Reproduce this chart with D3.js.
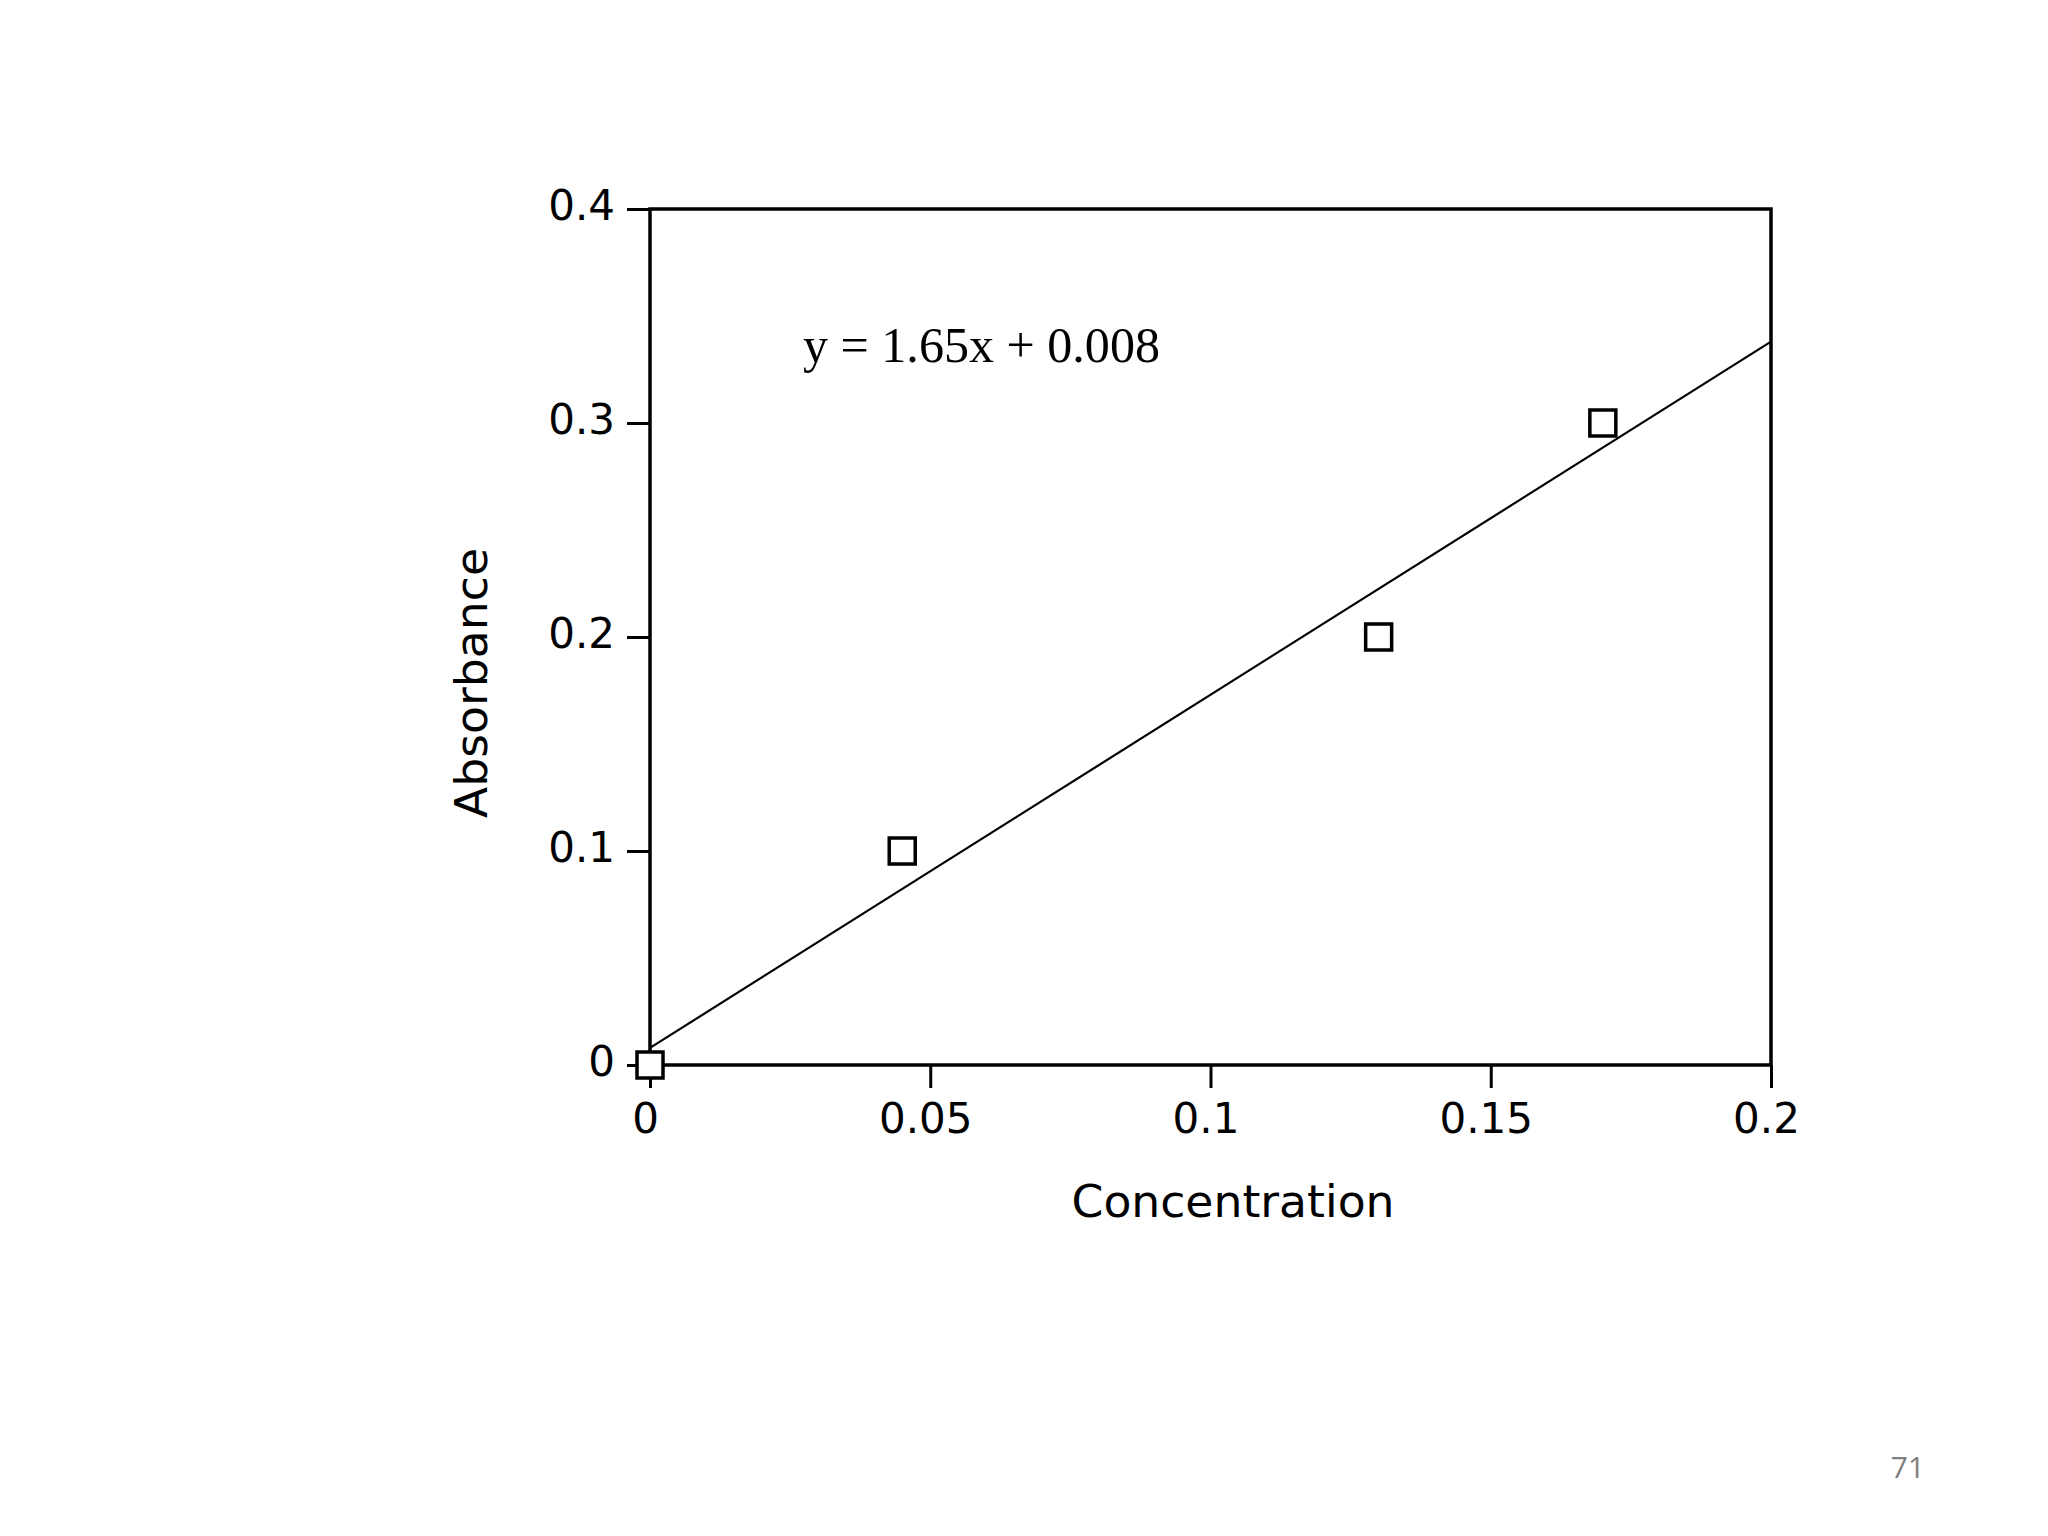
<!DOCTYPE html>
<html><head><meta charset="utf-8">
<script src="https://cdn.jsdelivr.net/npm/d3@7"></script>
<style>html,body{margin:0;padding:0;background:#fff;}</style>
</head><body>
<svg id="c" width="2048" height="1536"></svg>
<script>
const concentration = [0, 0.045, 0.13, 0.17];
const absorbance = [0, 0.1, 0.2, 0.3];
const xTicks = [0, 0.05, 0.1, 0.15, 0.2];
const xTickLabels = ["0", "0.05", "0.1", "0.15", "0.2"];
const yTicks = [0, 0.1, 0.2, 0.3, 0.4];
const yTickLabels = ["0", "0.1", "0.2", "0.3", "0.4"];
const fitSlope = 1.65, fitIntercept = 0.008;
const equationText = "y = 1.65x + 0.008";
const xTitle = "Concentration", yTitle = "Absorbance", pageNumber = "71";

const svg = d3.select("#c");
const L = 650, R = 1771, T = 209, B = 1065;
const x = d3.scaleLinear().domain([0, 0.2]).range([L, R]);
const y = d3.scaleLinear().domain([0, 0.4]).range([B, T]);
const tickFont = "'DejaVu Sans', sans-serif";

// axes
const ax = svg.append("g").attr("transform", `translate(0,${B})`)
  .call(d3.axisBottom(x).tickValues(xTicks).tickFormat((d,i)=>xTickLabels[i]).tickSize(23).tickSizeOuter(0).tickPadding(15));
const ay = svg.append("g").attr("transform", `translate(${L},0)`)
  .call(d3.axisLeft(y).tickValues(yTicks).tickFormat((d,i)=>yTickLabels[i]).tickSize(23).tickSizeOuter(0).tickPadding(12));
[ax, ay].forEach(g => {
  g.select(".domain").remove();
  g.selectAll(".tick line").attr("stroke", "#000").attr("stroke-width", 3);
  g.selectAll(".tick text").attr("fill", "#000").style("font-family", tickFont).style("font-size", "42px");
});
ax.selectAll(".tick text").attr("dx", -5);
ay.selectAll(".tick text").attr("dy", "0.25em");

// frame
svg.append("rect").attr("x", L).attr("y", T).attr("width", R - L).attr("height", B - T)
  .attr("fill", "none").attr("stroke", "#000").attr("stroke-width", 3.5);

// fit line
svg.append("line")
  .attr("x1", x(0)).attr("y1", y(fitIntercept))
  .attr("x2", x(0.2)).attr("y2", y(fitSlope * 0.2 + fitIntercept))
  .attr("stroke", "#000").attr("stroke-width", 2.2);

// points
const s = 26;
svg.append("g").selectAll("rect").data(concentration).join("rect")
  .attr("x", (d) => x(d) - s/2).attr("y", (d,i) => y(absorbance[i]) - s/2)
  .attr("width", s).attr("height", s)
  .attr("fill", "#fff").attr("stroke", "#000").attr("stroke-width", 3.5);

// equation
svg.append("text").attr("x", 803).attr("y", 362).text(equationText)
  .style("font-family", "'Liberation Serif', 'Times New Roman', serif").style("font-size", "50px").attr("fill", "#000")
  .attr("textLength", 357).attr("lengthAdjust", "spacingAndGlyphs");

// axis titles
svg.append("text").attr("x", 1233).attr("y", 1217).attr("text-anchor", "middle").text(xTitle)
  .style("font-family", "'DejaVu Sans', sans-serif").style("font-size", "44px").attr("fill", "#000")
  .attr("textLength", 323).attr("lengthAdjust", "spacingAndGlyphs");
svg.append("text").attr("transform", "translate(487,683) rotate(-90)").attr("text-anchor", "middle").text(yTitle)
  .style("font-family", "'DejaVu Sans', sans-serif").style("font-size", "44px").attr("fill", "#000")
  .attr("textLength", 270).attr("lengthAdjust", "spacingAndGlyphs");

// page number
svg.append("text").attr("x", 1925).attr("y", 1478).attr("text-anchor", "end").text(pageNumber)
  .style("font-family", "'Open Sans', sans-serif").style("font-size", "30px").attr("fill", "#7f7f7f");
</script>
</body></html>
